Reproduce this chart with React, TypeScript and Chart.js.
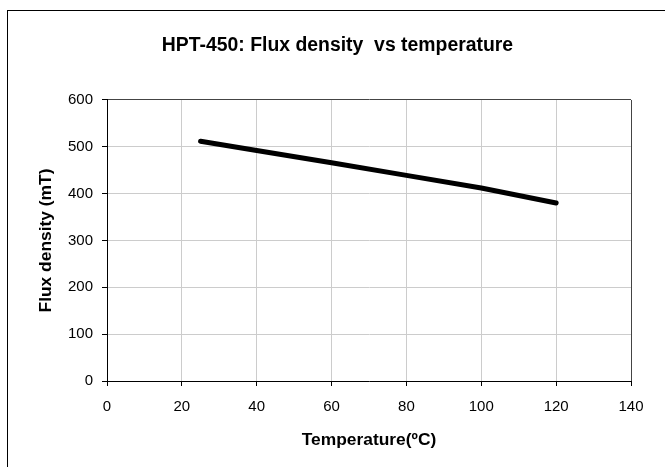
import React, { useEffect, useRef } from "react";
import { Chart, registerables } from "chart.js";

Chart.register(...registerables);

const temperatures = [25, 40, 60, 80, 100, 120];
const fluxDensity = [512, 492, 466, 439, 412, 380];
const titleText = "HPT-450: Flux density  vs temperature";
const xTitle = "Temperature(ºC)";
const yTitle = "Flux density (mT)";

const FONT = "'Liberation Sans', Arial, Helvetica, sans-serif";

export default function App() {
  const canvasRef = useRef<HTMLCanvasElement | null>(null);

  useEffect(() => {
    if (!canvasRef.current) return;
    const points = temperatures.map((t, i) => ({ x: t, y: fluxDensity[i] }));
    const chart = new Chart(canvasRef.current, {
      type: "line",
      data: {
        datasets: [
          {
            label: "Flux density",
            data: points,
            borderColor: "#000000",
            backgroundColor: "#000000",
            borderWidth: 5,
            pointRadius: 0,
            borderCapStyle: "round",
            borderJoinStyle: "round",
            tension: 0,
            fill: false,
          },
        ],
      },
      options: {
        animation: false,
        responsive: false,
        maintainAspectRatio: false,
        layout: { padding: { left: 10, right: 0, top: 0, bottom: 0 } },
        plugins: {
          legend: { display: false },
          tooltip: { enabled: false },
          title: {
            display: true,
            text: titleText,
            color: "#000000",
            font: { family: FONT, size: 19.4, weight: "bold" },
            padding: { top: 34.4, bottom: 42.3 },
          },
        },
        scales: {
          x: {
            type: "linear",
            min: 0,
            max: 140,
            afterFit: (s: any) => {
              s.height = 86;
            },
            ticks: {
              stepSize: 20,
              color: "#000000",
              padding: 12,
              font: { family: FONT, size: 15 },
            },
            grid: {
              color: (ctx: any) =>
                ctx.tick && ctx.tick.value === 140 ? "#444444" : "#cccccc",
              tickColor: "#000000",
              tickLength: 5,
              lineWidth: 1,
            },
            border: { color: "#000000", width: 1 },
            title: {
              display: true,
              text: xTitle,
              color: "#000000",
              font: { family: FONT, size: 17.4, weight: "bold" },
              padding: { top: 0, bottom: 16.5 },
            },
          },
          y: {
            type: "linear",
            min: 0,
            max: 600,
            afterFit: (s: any) => {
              s.width = 97;
            },
            ticks: {
              stepSize: 100,
              color: "#000000",
              padding: 9,
              font: { family: FONT, size: 15 },
            },
            grid: {
              color: (ctx: any) =>
                ctx.tick && ctx.tick.value === 600 ? "#444444" : "#cccccc",
              tickColor: "#000000",
              tickLength: 5,
              lineWidth: 1,
            },
            border: { color: "#000000", width: 1 },
            title: {
              display: true,
              text: yTitle,
              color: "#000000",
              font: { family: FONT, size: 17.4, weight: "bold" },
              padding: { top: 25.5, bottom: 0 },
            },
          },
          yRight: {
            type: "linear",
            position: "right",
            display: true,
            afterFit: (s: any) => {
              s.width = 34;
            },
            ticks: { display: false },
            grid: { display: false, drawTicks: false },
            border: { display: false },
          },
        },
      },
    });
    return () => chart.destroy();
  }, []);

  return (
    <div
      style={{
        position: "absolute",
        left: 0,
        top: 0,
        width: 665,
        height: 467,
        background: "#ffffff",
        overflow: "hidden",
      }}
    >
      <canvas
        ref={canvasRef}
        width={665}
        height={467}
        style={{ position: "absolute", left: 0, top: 0, width: 665, height: 467 }}
      />
      <div
        style={{
          position: "absolute",
          left: 7,
          top: 10,
          width: 700,
          height: 500,
          borderTop: "1px solid #000000",
          borderLeft: "1px solid #000000",
          pointerEvents: "none",
        }}
      />
    </div>
  );
}
